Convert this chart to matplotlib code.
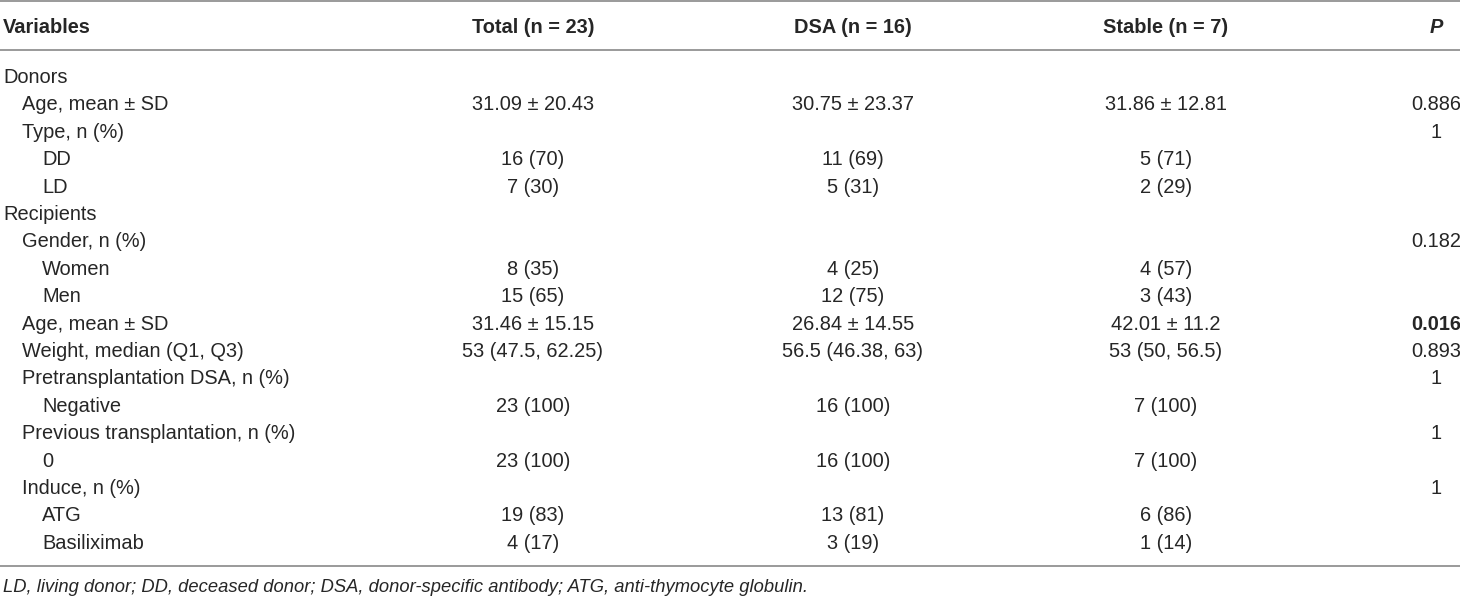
import matplotlib
matplotlib.use('Agg')
import matplotlib.pyplot as plt

# table content
headers = ['Variables', 'Total (n = 23)', 'DSA (n = 16)', 'Stable (n = 7)', 'P']

labels = [
    'Donors', 'Age, mean ± SD', 'Type, n (%)', 'DD', 'LD',
    'Recipients', 'Gender, n (%)', 'Women', 'Men', 'Age, mean ± SD',
    'Weight, median (Q1, Q3)', 'Pretransplantation DSA, n (%)', 'Negative',
    'Previous transplantation, n (%)', '0', 'Induce, n (%)', 'ATG', 'Basiliximab',
]
levels = [0, 1, 1, 2, 2, 0, 1, 2, 2, 1, 1, 1, 2, 1, 2, 1, 2, 2]

total = ['', '31.09 ± 20.43', '', '16 (70)', '7 (30)',
         '', '', '8 (35)', '15 (65)', '31.46 ± 15.15',
         '53 (47.5, 62.25)', '', '23 (100)', '', '23 (100)', '', '19 (83)', '4 (17)']
dsa = ['', '30.75 ± 23.37', '', '11 (69)', '5 (31)',
       '', '', '4 (25)', '12 (75)', '26.84 ± 14.55',
       '56.5 (46.38, 63)', '', '16 (100)', '', '16 (100)', '', '13 (81)', '3 (19)']
stable = ['', '31.86 ± 12.81', '', '5 (71)', '2 (29)',
          '', '', '4 (57)', '3 (43)', '42.01 ± 11.2',
          '53 (50, 56.5)', '', '7 (100)', '', '7 (100)', '', '6 (86)', '1 (14)']
pvals = ['', '0.886', '1', '', '',
         '', '0.182', '', '', '0.016',
         '0.893', '1', '', '1', '', '1', '', '']
bold_p = ['0.016']

footnote = ('LD, living donor; DD, deceased donor; DSA, donor-specific antibody; '
            'ATG, anti-thymocyte globulin.')

W, H = 1460, 597
fig = plt.figure(figsize=(W / 100, H / 100), dpi=100)
ax = fig.add_axes([0, 0, 1, 1])
ax.set_xlim(0, W)
ax.set_ylim(H, 0)
ax.axis('off')

plt.rcParams['font.family'] = ['Liberation Sans', 'DejaVu Sans']
fs = 14.4
txt = '#262626'
line_c = '#9a9a9a'

col_x = [533, 853, 1166, 1436]
indent = [3, 22, 42]

# rules
for y in (1, 50, 566):
    ax.plot([0, W], [y, y], color=line_c, lw=1.4, solid_capstyle='butt')

# header
hy = 33
ax.text(3, hy, headers[0], fontsize=fs, fontweight='bold', color=txt, va='baseline')
for x, h in zip(col_x[:3], headers[1:4]):
    ax.text(x, hy, h, fontsize=fs, fontweight='bold', color=txt, va='baseline', ha='center')
ax.text(col_x[3], hy, headers[4], fontsize=fs, fontweight='bold', style='italic',
        color=txt, va='baseline', ha='center')

# body rows
y0, pitch = 83, 27.4
for i, lab in enumerate(labels):
    y = y0 + i * pitch
    ax.text(indent[levels[i]], y, lab, fontsize=fs, color=txt, va='baseline')
    for x, col in zip(col_x[:3], (total, dsa, stable)):
        if col[i]:
            ax.text(x, y, col[i], fontsize=fs, color=txt, va='baseline', ha='center')
    if pvals[i]:
        ax.text(col_x[3], y, pvals[i], fontsize=fs, color=txt, va='baseline', ha='center',
                fontweight='bold' if pvals[i] in bold_p else 'normal')

ax.text(3, 592, footnote, fontsize=13.2, style='italic', color=txt, va='baseline')

fig.savefig('out.png', dpi=100, facecolor='white')
